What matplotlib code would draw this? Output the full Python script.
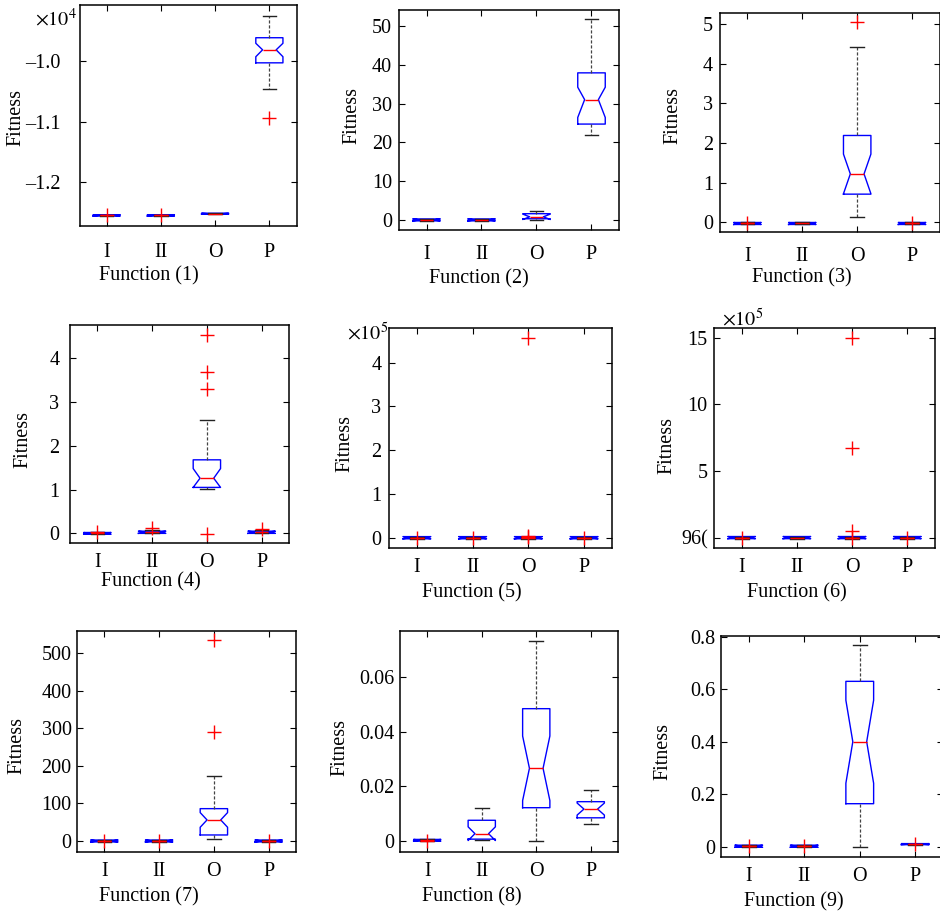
import matplotlib
matplotlib.use('Agg')
import matplotlib.pyplot as plt
from matplotlib.ticker import FixedLocator, FixedFormatter

plt.rcParams['font.family'] = ['Liberation Serif', 'DejaVu Serif']
plt.rcParams['mathtext.fontset'] = 'stix'
plt.rcParams['axes.unicode_minus'] = True

categories = ['I', 'II', 'O', 'P']

# ---------------- Function (1) ----------------
f1_whislo = [-12562, -12562, -12536, -10458]
f1_q1 = [-12562, -12562, -12530, -10030]
f1_med = [-12550, -12550, -12524, -9815]
f1_q3 = [-12540, -12540, -12516, -9615]
f1_whishi = [-12540, -12540, -12508, -9256]
f1_cilo = [-12562, -12562, -12530, -9929]
f1_cihi = [-12540, -12540, -12516, -9707]
f1_fliers = [[-12550], [-12550], [], [-10937]]
f1_ticks = [-12000, -11000, -10000]
f1_ticklabels = ['\u20131.2', '\u20131.1', '\u20131.0']

# ---------------- Function (2) ----------------
f2_whislo = [-0.25, -0.25, 0.0, 21.8]
f2_q1 = [-0.25, -0.25, 0.3, 24.7]
f2_med = [0.0, 0.0, 0.8, 31.0]
f2_q3 = [0.25, 0.25, 1.6, 37.9]
f2_whishi = [0.25, 0.25, 2.3, 51.8]
f2_cilo = [-0.25, -0.25, 0.1, 26.4]
f2_cihi = [0.25, 0.25, 1.5, 34.2]
f2_fliers = [[], [], [], []]
f2_ticks = [0, 10, 20, 30, 40, 50]
f2_ticklabels = ['0', '10', '20', '30', '40', '50']

# ---------------- Function (3) ----------------
f3_whislo = [-0.055, -0.055, 0.13, -0.055]
f3_q1 = [-0.055, -0.055, 0.71, -0.055]
f3_med = [-0.03, -0.03, 1.22, -0.03]
f3_q3 = [-0.005, -0.005, 2.19, -0.005]
f3_whishi = [-0.005, -0.005, 4.43, -0.005]
f3_cilo = [-0.055, -0.055, 0.72, -0.055]
f3_cihi = [-0.005, -0.005, 1.72, -0.005]
f3_fliers = [[-0.02], [], [5.06], [-0.02]]
f3_ticks = [0, 1, 2, 3, 4, 5]
f3_ticklabels = ['0', '1', '2', '3', '4', '5']

# ---------------- Function (4) ----------------
f4_whislo = [-0.02, 0.0, 1.02, 0.0]
f4_q1 = [-0.02, 0.0, 1.05, 0.0]
f4_med = [0.0, 0.03, 1.26, 0.03]
f4_q3 = [0.02, 0.05, 1.68, 0.05]
f4_whishi = [0.02, 0.07, 2.60, 0.07]
f4_cilo = [-0.02, 0.0, 1.05, 0.0]
f4_cihi = [0.02, 0.05, 1.48, 0.05]
f4_fliers = [[0.02], [0.13], [4.53, 3.68, 3.30, -0.02], [0.1]]
f4_ticks = [0, 1, 2, 3, 4]
f4_ticklabels = ['0', '1', '2', '3', '4']

# ---------------- Function (5) ----------------
f5_whislo = [-2500, -2500, -2500, -2500]
f5_q1 = [-2500, -2500, -2500, -2500]
f5_med = [0, 0, 0, 0]
f5_q3 = [2500, 2500, 2500, 2500]
f5_whishi = [2500, 2500, 2500, 2500]
f5_cilo = [-2500, -2500, -2500, -2500]
f5_cihi = [2500, 2500, 2500, 2500]
f5_fliers = [[0], [0], [456000, 4000, 1000], [0]]
f5_ticks = [0, 100000, 200000, 300000, 400000]
f5_ticklabels = ['0', '1', '2', '3', '4']

# ---------------- Function (6) ----------------
f6_whislo = [-7000, -7000, -7000, -7000]
f6_q1 = [-7000, -7000, -7000, -7000]
f6_med = [960, 960, 960, 960]
f6_q3 = [9000, 9000, 9000, 9000]
f6_whishi = [9000, 9000, 9000, 9000]
f6_cilo = [-7000, -7000, -7000, -7000]
f6_cihi = [9000, 9000, 9000, 9000]
f6_fliers = [[960], [], [1500000, 673000, 54000, 960], [960]]
f6_ticks = [960, 500000, 1000000, 1500000]
f6_ticklabels = ['96(', '5', '10', '15']

# ---------------- Function (7) ----------------
f7_whislo = [-2.5, -2.5, 5.3, -2.5]
f7_q1 = [-2.5, -2.5, 16, -2.5]
f7_med = [0, 0, 56, 0]
f7_q3 = [2.5, 2.5, 86, 2.5]
f7_whishi = [2.5, 2.5, 173, 2.5]
f7_cilo = [-2.5, -2.5, 36.5, -2.5]
f7_cihi = [2.5, 2.5, 75.5, 2.5]
f7_fliers = [[0], [0], [534.6, 289], [0]]
f7_ticks = [0, 100, 200, 300, 400, 500]
f7_ticklabels = ['0', '100', '200', '300', '400', '500']

# ---------------- Function (8) ----------------
f8_whislo = [0.0, 0.0005, 0.0002, 0.0062]
f8_q1 = [0.0, 0.0007, 0.0122, 0.0085]
f8_med = [0.0003, 0.0027, 0.0266, 0.0117]
f8_q3 = [0.0006, 0.0076, 0.0484, 0.0144]
f8_whishi = [0.0006, 0.0122, 0.0732, 0.0186]
f8_cilo = [0.0, 0.0002, 0.0148, 0.0095]
f8_cihi = [0.0006, 0.0052, 0.0384, 0.0139]
f8_fliers = [[0.0002], [], [], []]
f8_ticks = [0, 0.02, 0.04, 0.06]
f8_ticklabels = ['0', '0.02', '0.04', '0.06']

# ---------------- Function (9) ----------------
f9_whislo = [-0.002, -0.002, 0.0, 0.008]
f9_q1 = [-0.002, -0.002, 0.164, 0.008]
f9_med = [0.002, 0.002, 0.40, 0.010]
f9_q3 = [0.006, 0.006, 0.630, 0.012]
f9_whishi = [0.006, 0.006, 0.768, 0.012]
f9_cilo = [-0.002, -0.002, 0.242, 0.008]
f9_cihi = [0.006, 0.006, 0.558, 0.012]
f9_fliers = [[0.002], [0.002], [], [0.01]]
f9_ticks = [0, 0.2, 0.4, 0.6, 0.8]
f9_ticklabels = ['0', '0.2', '0.4', '0.6', '0.8']

panel_data = [
    (f1_whislo, f1_q1, f1_med, f1_q3, f1_whishi, f1_cilo, f1_cihi, f1_fliers, f1_ticks, f1_ticklabels),
    (f2_whislo, f2_q1, f2_med, f2_q3, f2_whishi, f2_cilo, f2_cihi, f2_fliers, f2_ticks, f2_ticklabels),
    (f3_whislo, f3_q1, f3_med, f3_q3, f3_whishi, f3_cilo, f3_cihi, f3_fliers, f3_ticks, f3_ticklabels),
    (f4_whislo, f4_q1, f4_med, f4_q3, f4_whishi, f4_cilo, f4_cihi, f4_fliers, f4_ticks, f4_ticklabels),
    (f5_whislo, f5_q1, f5_med, f5_q3, f5_whishi, f5_cilo, f5_cihi, f5_fliers, f5_ticks, f5_ticklabels),
    (f6_whislo, f6_q1, f6_med, f6_q3, f6_whishi, f6_cilo, f6_cihi, f6_fliers, f6_ticks, f6_ticklabels),
    (f7_whislo, f7_q1, f7_med, f7_q3, f7_whishi, f7_cilo, f7_cihi, f7_fliers, f7_ticks, f7_ticklabels),
    (f8_whislo, f8_q1, f8_med, f8_q3, f8_whishi, f8_cilo, f8_cihi, f8_fliers, f8_ticks, f8_ticklabels),
    (f9_whislo, f9_q1, f9_med, f9_q3, f9_whishi, f9_cilo, f9_cihi, f9_fliers, f9_ticks, f9_ticklabels),
]
xlabels = ['Function (%d)' % i for i in range(1, 10)]
ylims = [(-12727, -9074), (-2.6, 54.1), (-0.245, 5.28),
         (-0.22, 4.76), (-23500, 479000), (-77000, 1573000),
         (-29.3, 558.5), (-0.004, 0.0768), (-0.039, 0.8027)]
multipliers = {0: '4', 4: '5', 5: '5'}

# ---------------- layout (pixels from top-left) ----------------
W, H = 940, 914
rects = [(79.5, 5, 296.5, 226), (399, 10, 619, 230), (720, 13, 939.5, 232),
         (70, 325, 289, 543), (389, 328, 612, 548), (714, 328, 935, 548),
         (77, 631, 296, 852), (400, 631, 618, 852), (721, 636, 943, 857)]
xlab_pos = [(149, 276), (479, 279), (802, 278), (151, 582), (472, 593), (797, 593),
            (149, 897), (472, 897), (794, 902)]
ylab_pos = [(16, 117), (352, 115), (673, 115), (23, 439), (345, 443), (667, 445),
            (17, 745), (340, 747), (663, 751)]
ytick_pad = [13.5, 5, 5, 7.7, 5.5, 4.5, 3.8, 3.8, 4.3]
xtick_pad = [12.5, 10.5, 10.5, 7.5, 7.5, 7.5, 7.5, 7.5, 7.5]
mult_pos = {0: (35, 20), 4: (347, 334), 5: (722, 320)}

FS = 14.5
fig = plt.figure(figsize=(W / 100, H / 100), dpi=100)
fig.patch.set_facecolor('white')

for i, (wl, q1, med, q3, wh, cl, ch, fl, yt, ytl) in enumerate(panel_data):
    l, t, r, b = rects[i]
    ax = fig.add_axes([l / W, 1 - b / H, (r - l) / W, (b - t) / H])
    stats = []
    for k in range(4):
        stats.append(dict(whislo=wl[k], q1=q1[k], med=med[k], q3=q3[k], whishi=wh[k],
                          cilo=cl[k], cihi=ch[k], fliers=fl[k], label=categories[k]))
    ax.bxp(stats, positions=[1, 2, 3, 4], widths=0.5, shownotches=True, showfliers=True,
           boxprops=dict(color='#0000ff', linewidth=1.0),
           medianprops=dict(color='#ff0000', linewidth=1.0),
           whiskerprops=dict(color='#444444', linewidth=0.9, linestyle=(0, (2.5, 1.5))),
           capprops=dict(color='#222222', linewidth=1.0),
           flierprops=dict(marker='+', markeredgecolor='#ff0000', markersize=10,
                           markeredgewidth=1.0, linestyle='none'))
    ax.set_xlim(0.5, 4.5)
    ax.set_ylim(*ylims[i])
    ax.set_xticks([1, 2, 3, 4])
    ax.set_xticklabels(categories, fontsize=FS)
    ax.yaxis.set_major_locator(FixedLocator(yt))
    ax.yaxis.set_major_formatter(FixedFormatter(ytl))
    ax.tick_params(axis='both', direction='in', top=True, right=True, length=4,
                   width=0.8, labelsize=FS)
    ax.tick_params(axis='y', pad=ytick_pad[i])
    ax.tick_params(axis='x', pad=xtick_pad[i])
    for s in ax.spines.values():
        s.set_linewidth(1.1)

    ax.set_xlabel(xlabels[i], fontsize=FS)
    cx, cy = xlab_pos[i]
    ax.xaxis.set_label_coords((cx - l) / (r - l), (b - cy) / (b - t))
    ax.xaxis.label.set_verticalalignment('center')
    ax.set_ylabel('Fitness', fontsize=FS)
    yx, yy = ylab_pos[i]
    ax.yaxis.set_label_coords((yx - l) / (r - l), (b - yy) / (b - t))
    ax.yaxis.label.set_verticalalignment('center')
    ax.yaxis.label.set_horizontalalignment('center')

    if i in multipliers:
        mx, my = mult_pos[i]
        fig.text(mx / W, 1 - my / H, r'$\times10^{%s}$' % multipliers[i],
                 fontsize=FS, ha='left', va='center')

fig.savefig('out.png', dpi=100, facecolor='white')
